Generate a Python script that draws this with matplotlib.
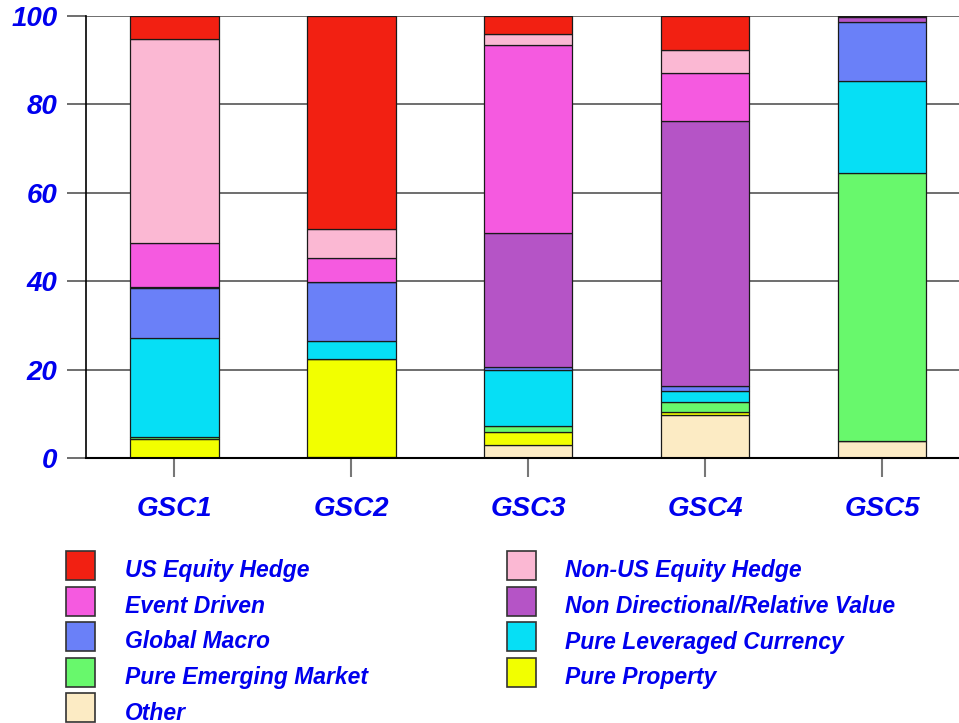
import numpy as np
import matplotlib
matplotlib.use("Agg")
import matplotlib.pyplot as plt
from matplotlib.patches import Rectangle

plt.rcParams['font.family'] = ['Liberation Sans', 'DejaVu Sans']

groups = ["GSC1", "GSC2", "GSC3", "GSC4", "GSC5"]

# stacked from the bottom up
other = [0.0, 0.3, 2.9, 9.7, 3.9]
pure_property = [4.3, 22.1, 3.0, 0.6, 0.0]
pure_emerging = [0.4, 0.0, 1.3, 2.3, 60.5]
pure_currency = [22.4, 4.1, 12.6, 2.6, 20.8]
global_macro = [11.3, 13.3, 0.9, 1.1, 13.4]
non_directional = [0.3, 0.0, 30.1, 59.9, 1.2]
event_driven = [9.9, 5.4, 42.6, 10.8, 0.2]
non_us_equity = [46.1, 6.5, 2.5, 5.4, 0.0]
us_equity = [5.3, 48.3, 4.1, 7.6, 0.2]

series = [
    ("Other", other, "#FCEBC4"),
    ("Pure Property", pure_property, "#F2FF00"),
    ("Pure Emerging Market", pure_emerging, "#68F86C"),
    ("Pure Leveraged Currency", pure_currency, "#06DFF5"),
    ("Global Macro", global_macro, "#6A80F8"),
    ("Non Directional/Relative Value", non_directional, "#B554C6"),
    ("Event Driven", event_driven, "#F55AE0"),
    ("Non-US Equity Hedge", non_us_equity, "#FBB8D3"),
    ("US Equity Hedge", us_equity, "#F22012"),
]
legend_order = ["US Equity Hedge", "Event Driven", "Global Macro",
                "Pure Emerging Market", "Other",
                "Non-US Equity Hedge", "Non Directional/Relative Value",
                "Pure Leveraged Currency", "Pure Property"]

blue = "#0000EE"
W, H = 959, 723
fig = plt.figure(figsize=(W / 100, H / 100), dpi=100)
ax = fig.add_axes([86 / W, (H - 458) / H, 873 / W, 442 / H])

x = np.arange(len(groups))
bottom = np.zeros(len(groups))
for name, vals, col in series:
    ax.bar(x, vals, width=0.5, bottom=bottom, color=col,
           edgecolor="#1a1a1a", linewidth=0.9, zorder=3)
    bottom += np.array(vals)

ax.set_xlim(-0.5, 4.435)
ax.set_ylim(0, 100)
ax.set_yticks([0, 20, 40, 60, 80, 100])
ax.set_xticks(x)
ax.set_xticklabels(groups)
ax.yaxis.grid(True, color="#555555", linewidth=1.2, zorder=0)
ax.set_axisbelow(True)
for s in ["top", "right"]:
    ax.spines[s].set_visible(False)
ax.spines["left"].set_color("black")
ax.spines["bottom"].set_color("black")
ax.spines["left"].set_linewidth(1.2)
ax.spines["bottom"].set_linewidth(1.5)
ax.spines["bottom"].set_zorder(4)
ax.tick_params(axis="y", direction="out", length=13.7, width=1.2,
               color="#555555", pad=7, labelsize=20, labelcolor=blue)
ax.tick_params(axis="x", direction="out", length=13.7, width=1.5,
               color="#777777", pad=14, labelsize=20, labelcolor=blue)
for lab in ax.get_xticklabels() + ax.get_yticklabels():
    lab.set_fontweight("bold")
    lab.set_fontstyle("italic")

# legend, two columns
colors = {name: col for name, vals, col in series}
col_x = [66, 507]
text_x = [125, 565]
for i, name in enumerate(legend_order):
    c, r = (0, i) if i < 5 else (1, i - 5)
    top = 551 + r * 35.5
    fig.patches.append(Rectangle((col_x[c] / W, (H - top - 29) / H), 29 / W, 29 / H,
                                 transform=fig.transFigure, facecolor=colors[name],
                                 edgecolor="#333333", linewidth=1.2))
    fig.text(text_x[c] / W, (H - top - 26.5) / H, name, color=blue,
             fontsize=16.5, fontweight="bold", fontstyle="italic", va="baseline")

fig.savefig("out.png", dpi=100)
